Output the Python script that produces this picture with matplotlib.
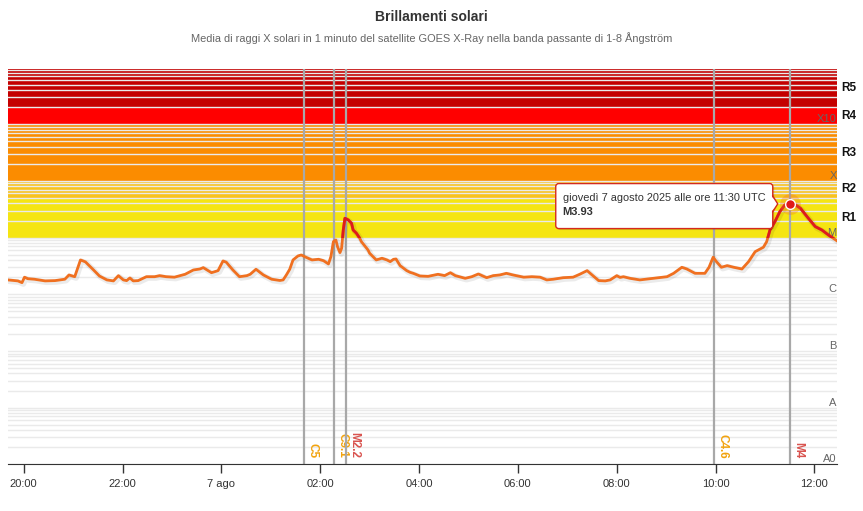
import numpy as np
import matplotlib
matplotlib.use('Agg')
import matplotlib.pyplot as plt
import matplotlib.dates as mdates
import matplotlib.patheffects as pe
from matplotlib.patches import Rectangle, FancyBboxPatch, Polygon
from matplotlib.lines import Line2D
from matplotlib.transforms import IdentityTransform
import pandas as pd

plt.rcParams['font.family'] = ['Liberation Sans', 'DejaVu Sans']

# GOES X-ray flux 1-8 A (W/m2)
times = ['2025-08-06 19:41', '2025-08-06 19:53', '2025-08-06 19:58', '2025-08-06 20:01',
         '2025-08-06 20:05', '2025-08-06 20:13', '2025-08-06 20:26', '2025-08-06 20:38',
         '2025-08-06 20:50', '2025-08-06 20:55', '2025-08-06 21:02', '2025-08-06 21:09',
         '2025-08-06 21:15', '2025-08-06 21:24', '2025-08-06 21:32', '2025-08-06 21:41',
         '2025-08-06 21:49', '2025-08-06 21:55', '2025-08-06 22:01', '2025-08-06 22:05',
         '2025-08-06 22:09', '2025-08-06 22:13', '2025-08-06 22:19', '2025-08-06 22:29',
         '2025-08-06 22:39', '2025-08-06 22:45', '2025-08-06 22:53', '2025-08-06 23:03',
         '2025-08-06 23:16', '2025-08-06 23:26', '2025-08-06 23:34', '2025-08-06 23:38',
         '2025-08-06 23:48', '2025-08-06 23:56', '2025-08-07 00:02', '2025-08-07 00:06',
         '2025-08-07 00:14', '2025-08-07 00:22', '2025-08-07 00:31', '2025-08-07 00:35',
         '2025-08-07 00:42', '2025-08-07 00:51', '2025-08-07 01:01', '2025-08-07 01:11',
         '2025-08-07 01:15', '2025-08-07 01:19', '2025-08-07 01:23', '2025-08-07 01:27',
         '2025-08-07 01:33', '2025-08-07 01:37', '2025-08-07 01:41', '2025-08-07 01:50',
         '2025-08-07 01:58', '2025-08-07 02:04', '2025-08-07 02:10', '2025-08-07 02:13',
         '2025-08-07 02:16', '2025-08-07 02:19', '2025-08-07 02:21', '2025-08-07 02:24',
         '2025-08-07 02:26', '2025-08-07 02:28', '2025-08-07 02:30', '2025-08-07 02:34',
         '2025-08-07 02:38', '2025-08-07 02:40', '2025-08-07 02:44', '2025-08-07 02:48',
         '2025-08-07 02:50', '2025-08-07 02:58', '2025-08-07 03:00', '2025-08-07 03:08',
         '2025-08-07 03:15', '2025-08-07 03:21', '2025-08-07 03:25', '2025-08-07 03:29',
         '2025-08-07 03:32', '2025-08-07 03:37', '2025-08-07 03:45', '2025-08-07 03:49',
         '2025-08-07 03:53', '2025-08-07 04:01', '2025-08-07 04:11', '2025-08-07 04:23',
         '2025-08-07 04:31', '2025-08-07 04:38', '2025-08-07 04:44', '2025-08-07 04:56',
         '2025-08-07 05:04', '2025-08-07 05:12', '2025-08-07 05:22', '2025-08-07 05:30',
         '2025-08-07 05:38', '2025-08-07 05:46', '2025-08-07 05:54', '2025-08-07 06:07',
         '2025-08-07 06:17', '2025-08-07 06:27', '2025-08-07 06:35', '2025-08-07 06:43',
         '2025-08-07 06:55', '2025-08-07 07:07', '2025-08-07 07:15', '2025-08-07 07:24',
         '2025-08-07 07:30', '2025-08-07 07:38', '2025-08-07 07:46', '2025-08-07 07:52',
         '2025-08-07 08:00', '2025-08-07 08:04', '2025-08-07 08:08', '2025-08-07 08:16',
         '2025-08-07 08:28', '2025-08-07 08:44', '2025-08-07 09:01', '2025-08-07 09:09',
         '2025-08-07 09:19', '2025-08-07 09:25', '2025-08-07 09:35', '2025-08-07 09:47',
         '2025-08-07 09:52', '2025-08-07 09:57', '2025-08-07 10:01', '2025-08-07 10:07',
         '2025-08-07 10:14', '2025-08-07 10:22', '2025-08-07 10:32', '2025-08-07 10:40',
         '2025-08-07 10:48', '2025-08-07 10:58', '2025-08-07 11:02', '2025-08-07 11:06',
         '2025-08-07 11:12', '2025-08-07 11:18', '2025-08-07 11:24', '2025-08-07 11:30',
         '2025-08-07 11:37', '2025-08-07 11:43', '2025-08-07 11:51', '2025-08-07 12:01',
         '2025-08-07 12:09', '2025-08-07 12:17', '2025-08-07 12:27']
flux = [1.79e-6, 1.72e-6, 1.60e-6, 2.00e-6, 1.88e-6, 1.84e-6, 1.72e-6, 1.74e-6,
        1.84e-6, 2.19e-6, 2.04e-6, 4.03e-6, 3.72e-6, 2.76e-6, 2.10e-6, 1.79e-6,
        1.72e-6, 2.13e-6, 1.79e-6, 1.74e-6, 1.94e-6, 1.72e-6, 1.74e-6, 2.04e-6,
        2.04e-6, 2.13e-6, 2.04e-6, 2.00e-6, 2.25e-6, 2.68e-6, 2.79e-6, 2.95e-6,
        2.40e-6, 2.61e-6, 3.87e-6, 3.67e-6, 2.68e-6, 2.04e-6, 2.13e-6, 2.25e-6,
        2.76e-6, 2.19e-6, 1.84e-6, 1.75e-6, 1.79e-6, 2.20e-6, 2.76e-6, 4.03e-6,
        4.74e-6, 4.93e-6, 4.61e-6, 4.03e-6, 4.14e-6, 3.91e-6, 3.42e-6, 4.61e-6,
        8.47e-6, 9.08e-6, 6.92e-6, 5.42e-6, 6.48e-6, 1.36e-5, 2.19e-5, 2.05e-5,
        1.79e-5, 1.36e-5, 1.19e-5, 9.73e-6, 8.47e-6, 6.05e-6, 5.29e-6, 4.03e-6,
        4.32e-6, 4.03e-6, 3.76e-6, 4.14e-6, 4.19e-6, 3.20e-6, 2.61e-6, 2.44e-6,
        2.34e-6, 2.10e-6, 2.07e-6, 2.25e-6, 2.13e-6, 2.40e-6, 2.13e-6, 1.91e-6,
        2.04e-6, 2.28e-6, 1.96e-6, 2.13e-6, 2.19e-6, 2.34e-6, 2.19e-6, 2.00e-6,
        2.04e-6, 2.00e-6, 1.79e-6, 1.84e-6, 1.96e-6, 2.00e-6, 2.25e-6, 2.61e-6,
        2.19e-6, 1.74e-6, 1.72e-6, 1.79e-6, 2.13e-6, 1.98e-6, 2.04e-6, 1.91e-6,
        1.79e-6, 1.91e-6, 2.04e-6, 2.34e-6, 2.99e-6, 2.79e-6, 2.34e-6, 2.34e-6,
        2.99e-6, 4.50e-6, 3.76e-6, 2.99e-6, 3.20e-6, 2.99e-6, 2.79e-6, 3.76e-6,
        5.64e-6, 6.75e-6, 8.47e-6, 1.36e-5, 1.91e-5, 2.87e-5, 3.76e-5, 3.93e-5,
        3.76e-5, 3.29e-5, 2.34e-5, 1.56e-5, 1.36e-5, 1.11e-5, 8.83e-6]

flare_times = ['2025-08-07 01:40', '2025-08-07 02:17', '2025-08-07 02:31',
               '2025-08-07 09:58', '2025-08-07 11:30']
flare_labels = ['C5', 'C9.1', 'M2.2', 'C4.6', 'M4']

class_names = ['A0', 'A', 'B', 'C', 'M', 'X', 'X10']
class_levels = [1e-9, 1e-8, 1e-7, 1e-6, 1e-5, 1e-4, 1e-3]

radio_names = ['R1', 'R2', 'R3', 'R4', 'R5']
radio_levels = [1e-5, 5e-5, 1e-4, 1e-3, 2e-3]
radio_colors = ['#f5e512', '#f8c31d', '#fb8c00', '#ff0000', '#c40000']

tip_time = '2025-08-07 11:30'
tip_value = 3.93e-5
tip_text = 'giovedì 7 agosto 2025 alle ore 11:30 UTC'
tip_class = 'M3.93'

t = mdates.date2num(pd.to_datetime(times).to_pydatetime())
f = np.array(flux)
y_top = 9.3e-3

fig = plt.figure(figsize=(8.63, 5.11), dpi=100, facecolor='white')
ax = fig.add_axes([8 / 863, 1 - 464.3 / 511, 828.7 / 863, 395 / 511])
ax.set_yscale('log')
ax.xaxis_date()
ax.set_xlim(t[0], t[-1])
ax.set_ylim(1e-9, y_top)

# radio blackout bands
bounds = radio_levels + [y_top]
for i, name in enumerate(radio_names):
    lo, hi = bounds[i], bounds[i + 1]
    ax.axhspan(lo, hi, color=radio_colors[i], zorder=0.5, lw=0)
    ax.text(1.005, np.sqrt(lo * hi), name, transform=ax.get_yaxis_transform(),
            ha='left', va='center', fontsize=8.5, fontweight='bold', color='#111111')

ax.yaxis.set_major_locator(matplotlib.ticker.LogLocator(base=10, numticks=20))
ax.yaxis.set_minor_locator(matplotlib.ticker.LogLocator(base=10, subs=np.arange(2, 10), numticks=20))
ax.yaxis.grid(True, which='both', color='#eaeaea', lw=1, zorder=1)
ax.tick_params(axis='y', which='both', left=False, labelleft=False)

for name, lev in zip(class_names, class_levels):
    ax.text(1.0, lev, name, transform=ax.get_yaxis_transform(), ha='right', va='bottom',
            fontsize=8, color='#666666')

# flare lines
for ft, lab in zip(flare_times, flare_labels):
    tt = mdates.date2num(pd.Timestamp(ft).to_pydatetime())
    ax.axvline(tt, color='#a8a8a8', lw=1.6, zorder=3)
    col = '#d9534f' if lab.startswith('M') else '#f2a30f'
    ax.annotate(lab, xy=(tt, 0.0), xycoords=ax.get_xaxis_transform(),
                xytext=(2.5, 6), textcoords='offset pixels', rotation=270,
                ha='left', va='bottom', fontsize=8.5, fontweight='bold', color=col)

# flux curve, red above M1
shadow = [pe.SimpleLineShadow(offset=(1, -1), shadow_color='k', alpha=0.08, linewidth=4), pe.Normal()]
ax.plot(t, f, color='#f07020', lw=2, zorder=4, path_effects=shadow, solid_joinstyle='round')
red, = ax.plot(t, f, color='#dd1c1c', lw=2, zorder=4.5, solid_joinstyle='round')
clip = Rectangle((t[0], radio_levels[0]), t[-1] - t[0], y_top - radio_levels[0],
                 transform=ax.transData)
red.set_clip_path(clip)

# x axis
ax.xaxis.set_major_locator(mdates.HourLocator(byhour=range(0, 24, 2)))
ax.xaxis.set_major_formatter(matplotlib.ticker.FuncFormatter(
    lambda v, p: '7 ago' if mdates.num2date(v).hour == 0 else mdates.num2date(v).strftime('%H:%M')))
ax.tick_params(axis='x', length=6.5, width=1, color='#333333', labelcolor='#333333',
               labelsize=8, pad=4)
for s in ('top', 'right', 'left'):
    ax.spines[s].set_visible(False)
ax.spines['bottom'].set_color('#333333')
ax.spines['bottom'].set_zorder(5)

fig.text(0.5, 1 - 17 / 511, 'Brillamenti solari', ha='center', va='center',
         fontsize=10, fontweight='bold', color='#333333')
fig.text(0.5, 1 - 38 / 511,
         'Media di raggi X solari in 1 minuto del satellite GOES X-Ray nella banda passante di 1-8 Ångström',
         ha='center', va='center', fontsize=7.9, color='#666666')

# tooltip
tp = mdates.date2num(pd.Timestamp(tip_time).to_pydatetime())
ax.plot([tp], [tip_value], 'o', ms=15, color='#f07020', alpha=0.3, zorder=6, mew=0)
ax.plot([tp], [tip_value], 'o', ms=7, color='#e01a1a', mec='white', mew=1, zorder=7)
fig.canvas.draw()
px, py = ax.transData.transform(np.array([[tp, tip_value]], dtype=float))[0]
idt = IdentityTransform()
bx0, bx1, by0, by1 = px - 234, px - 17, py - 24.7, py + 20.3
fig.add_artist(FancyBboxPatch((bx0 + 1.5, by0 - 1.5), bx1 - bx0, by1 - by0,
                              boxstyle='round,pad=0,rounding_size=3', transform=idt,
                              fc='black', ec='none', alpha=0.12, zorder=9))
fig.add_artist(FancyBboxPatch((bx0, by0), bx1 - bx0, by1 - by0,
                              boxstyle='round,pad=0,rounding_size=3', transform=idt,
                              fc='white', ec='#d42a1e', lw=1, zorder=10))
fig.add_artist(Polygon([(bx1 - 1.5, py + 8), (px - 12, py), (bx1 - 1.5, py - 8)],
                       closed=True, transform=idt, fc='white', ec='none', zorder=11))
fig.add_artist(Line2D([bx1, px - 12, bx1], [py + 8, py, py - 8], transform=idt,
                      color='#d42a1e', lw=1, zorder=12))
fig.text(bx0 + 7, py + 6.3, tip_text, transform=idt, ha='left', va='center',
         fontsize=7.9, color='#333333', zorder=13)
fig.text(bx0 + 7, py - 7.7, tip_class, transform=idt, ha='left', va='center',
         fontsize=8, fontweight='bold', color='#333333', zorder=13)

fig.savefig('out.png', dpi=100, facecolor='white')
